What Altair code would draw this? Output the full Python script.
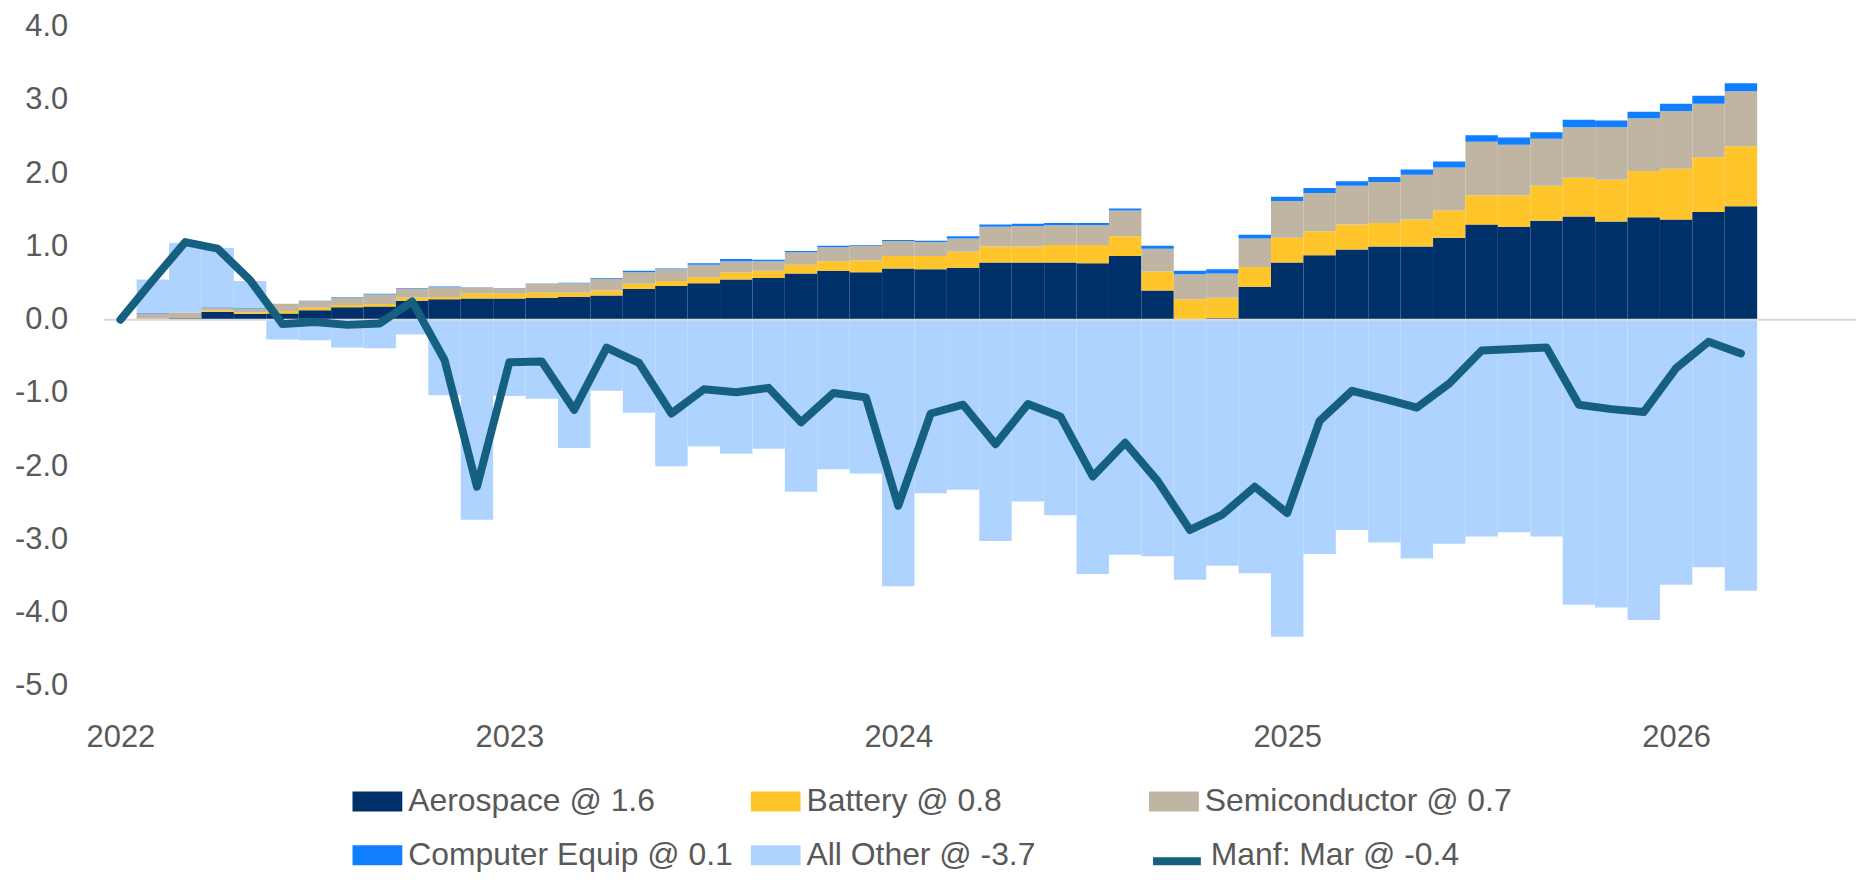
import altair as alt
import pandas as pd

# ---------------- data ----------------
months = pd.date_range("2022-01-01", "2026-03-01", freq="MS").strftime("%Y-%m").tolist()  # Jan 2022 .. Mar 2026

# stacked contributions, Feb 2022 .. Mar 2026
aerospace = [0.01, 0.02, 0.11, 0.08, 0.086, 0.13, 0.17, 0.18, 0.26, 0.28, 0.29,
             0.29, 0.30, 0.31, 0.33, 0.42, 0.46, 0.50, 0.55, 0.57, 0.63, 0.67, 0.65,
             0.70, 0.69, 0.71, 0.78, 0.78, 0.78, 0.77, 0.87, 0.40, 0.00, 0.02, 0.45,
             0.78, 0.88, 0.96, 1.00, 1.00, 1.12, 1.30, 1.27, 1.35, 1.41, 1.34, 1.40,
             1.37, 1.47, 1.55]
battery = [0.005, 0.005, 0.02, 0.02, 0.034, 0.035, 0.03, 0.035, 0.045, 0.03, 0.07,
           0.065, 0.07, 0.06, 0.07, 0.07, 0.07, 0.08, 0.095, 0.10, 0.12, 0.13, 0.16,
           0.17, 0.18, 0.22, 0.22, 0.22, 0.24, 0.25, 0.27, 0.26, 0.28, 0.28, 0.27,
           0.34, 0.33, 0.34, 0.32, 0.37, 0.37, 0.40, 0.43, 0.48, 0.53, 0.57, 0.63,
           0.69, 0.75, 0.82]
semiconductor = [0.07, 0.075, 0.035, 0.055, 0.10, 0.09, 0.105, 0.13, 0.12, 0.135, 0.08,
                 0.075, 0.12, 0.13, 0.16, 0.16, 0.16, 0.17, 0.155, 0.13, 0.17, 0.19, 0.20,
                 0.205, 0.19, 0.18, 0.27, 0.28, 0.27, 0.27, 0.35, 0.31, 0.34, 0.33, 0.39,
                 0.50, 0.52, 0.53, 0.56, 0.61, 0.59, 0.73, 0.69, 0.64, 0.69, 0.72, 0.72,
                 0.79, 0.73, 0.75]
computer = [0.01, 0.0, 0.005, 0.005, 0.0, 0.005, 0.005, 0.01, 0.01, 0.01, 0.005,
            0.005, 0.005, 0.005, 0.01, 0.02, 0.01, 0.02, 0.03, 0.02, 0.02, 0.02, 0.01,
            0.015, 0.02, 0.03, 0.03, 0.03, 0.03, 0.03, 0.03, 0.04, 0.05, 0.06, 0.05,
            0.06, 0.07, 0.06, 0.07, 0.07, 0.08, 0.09, 0.10, 0.09, 0.10, 0.09, 0.09,
            0.10, 0.11, 0.11]
all_other = [0.455, 0.95, 0.81, 0.37, -0.27, -0.28, -0.38, -0.39, -0.20, -1.03, -2.73,
             -1.04, -1.08, -1.75, -0.97, -1.27, -2.00, -1.73, -1.83, -1.76, -2.35, -2.04, -2.10,
             -3.64, -2.37, -2.32, -3.02, -2.48, -2.67, -3.47, -3.21, -3.23, -3.55, -3.36, -3.46,
             -4.33, -3.20, -2.87, -3.04, -3.26, -3.06, -2.96, -2.90, -2.96, -3.89, -3.93, -4.10,
             -3.62, -3.38, -3.70]

# manufacturing line, Jan 2022 .. Mar 2026
manf = [0.00, 0.54, 1.06, 0.97, 0.54, -0.06, -0.03, -0.07, -0.05, 0.25, -0.55, -2.28,
        -0.58, -0.57, -1.23, -0.38, -0.59, -1.28, -0.95, -0.99, -0.93, -1.40, -1.00, -1.06,
        -2.54, -1.28, -1.16, -1.70, -1.15, -1.32, -2.14, -1.68, -2.20, -2.87, -2.66, -2.28,
        -2.64, -1.38, -0.97, -1.08, -1.20, -0.87, -0.42, -0.40, -0.38, -1.16, -1.22, -1.26,
        -0.66, -0.30, -0.46]

series_names = ["Aerospace @ 1.6", "Battery @ 0.8", "Semiconductor @ 0.7",
                "Computer Equip @ 0.1", "All Other @ -3.7"]
series_colors = ["#00306A", "#FFC52B", "#C0B4A3", "#0F7FFF", "#AFD3FF"]
line_name = "Manf: Mar @ -0.4"
line_color = "#155F80"
year_ticks = [0, 12, 24, 36, 48]
y_ticks = [-5, -4, -3, -2, -1, 0, 1, 2, 3, 4]

# ---------------- tables ----------------
rows = []
series_vals = [aerospace, battery, semiconductor, computer, all_other]
for i in range(len(aerospace)):
    idx = i + 1
    pos, neg = 0.0, 0.0
    for name, vals in zip(series_names, series_vals):
        v = vals[i]
        if v >= 0:
            y0, y1 = pos, pos + v
            pos = y1
        else:
            y0, y1 = neg, neg + v
            neg = y1
        rows.append(dict(month=months[idx], series=name, x0=idx - 0.5, x1=idx + 0.5,
                         y0=y0, y1=y1, value=v))
bar_df = pd.DataFrame(rows)
line_df = pd.DataFrame({"month": months, "idx": list(range(len(months))),
                        "value": manf, "series": line_name})
zero_df = pd.DataFrame({"y": [0.0]})

FONT = "Liberation Sans"
TXT = "#595959"

x_scale = alt.Scale(domain=[-0.52, 53.55], nice=False, zero=False)
y_scale = alt.Scale(domain=[-5, 4], nice=False, zero=False)

x_axis = alt.Axis(title=None, values=year_ticks, grid=False, domain=False, ticks=False,
                  tickSize=0, labelExpr="'' + (2022 + datum.value / 12)",
                  labelFontSize=31, labelFont=FONT, labelColor=TXT, labelPadding=37,
                  labelFlush=False, labelOverlap=False)
y_axis = alt.Axis(title=None, values=y_ticks, grid=False, domain=False, ticks=False,
                  tickSize=0,
                  labelExpr="(datum.value < 0 ? '-' : '') + format(abs(datum.value), '.1f')",
                  labelFontSize=31, labelFont=FONT, labelColor=TXT, labelPadding=36,
                  labelOverlap=False)

bars = alt.Chart(bar_df).mark_rect().encode(
    x=alt.X("x0:Q", scale=x_scale, axis=x_axis),
    x2="x1:Q",
    y=alt.Y("y0:Q", scale=y_scale, axis=y_axis),
    y2="y1:Q",
    color=alt.Color("series:N", sort=series_names,
                    scale=alt.Scale(domain=series_names, range=series_colors),
                    legend=alt.Legend(title=None, orient="none", legendX=250, legendY=753,
                                      direction="horizontal",
                                      columns=3, gridAlign="all", columnPadding=18,
                                      rowPadding=13,
                                      symbolType="M-1,-0.4L1,-0.4L1,0.4L-1,0.4Z",
                                      symbolSize=2500, symbolStrokeWidth=0,
                                      symbolOpacity=1,
                                      labelFontSize=32, labelFont=FONT, labelColor=TXT,
                                      labelOffset=6, labelLimit=600)),
)

zero_rule = alt.Chart(zero_df).mark_rule(color="#D9D9D9", strokeWidth=2).encode(
    y=alt.Y("y:Q", scale=y_scale, axis=y_axis)
)

line = alt.Chart(line_df).mark_line(strokeWidth=8, strokeCap="round", strokeJoin="round").encode(
    x=alt.X("idx:Q", scale=x_scale, axis=x_axis),
    y=alt.Y("value:Q", scale=y_scale, axis=y_axis),
    stroke=alt.Stroke("series:N",
                      scale=alt.Scale(domain=[line_name], range=[line_color]),
                      legend=alt.Legend(title=None, orient="none", legendX=1050, legendY=804,
                                        symbolType="M-1,0.25L1,0.25", symbolSize=2304,
                                        symbolStrokeWidth=8,
                                        labelFontSize=32, labelFont=FONT, labelColor=TXT,
                                        labelOffset=6, labelLimit=600)),
)

chart = alt.layer(bars, zero_rule, line).resolve_legend(
    color="independent", stroke="independent"
).properties(
    width=1760,
    height=662,
    autosize=alt.AutoSizeParams(type="none"),
    padding={"left": 96, "top": 17, "right": 2, "bottom": 187},
).configure(
    font=FONT,
    view=alt.ViewConfig(stroke=None),
)

chart.save("out.html", embed_options={"renderer": "svg", "actions": False})
